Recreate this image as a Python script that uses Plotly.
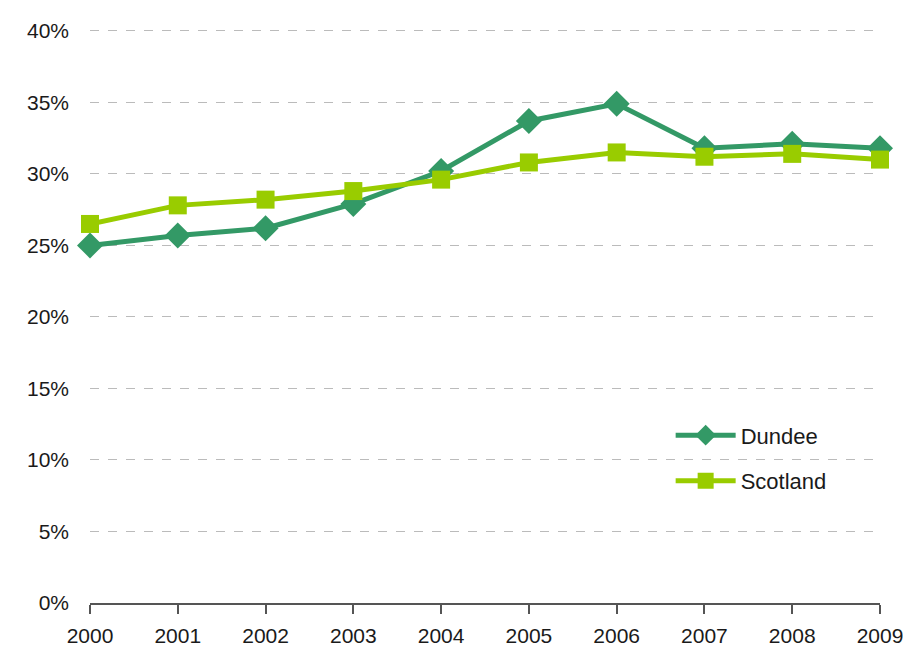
import plotly.graph_objects as go

years = [2000, 2001, 2002, 2003, 2004, 2005, 2006, 2007, 2008, 2009]
dundee = [25.0, 25.7, 26.2, 27.9, 30.2, 33.7, 34.9, 31.8, 32.1, 31.8]
scotland = [26.5, 27.8, 28.2, 28.8, 29.6, 30.8, 31.5, 31.2, 31.4, 31.0]
y_ticks = [0, 5, 10, 15, 20, 25, 30, 35, 40]
y_labels = [f"{v}%" for v in y_ticks]

fig = go.Figure()
fig.add_trace(go.Scatter(
    x=years, y=dundee, name="Dundee", mode="lines+markers", legendgroup="a",
    line=dict(color="#339966", width=5),
    marker=dict(symbol="diamond", size=20, color="#339966"),
    cliponaxis=False,
))
fig.add_trace(go.Scatter(
    x=years, y=scotland, name="Scotland", mode="lines+markers", legendgroup="b",
    line=dict(color="#99CC00", width=5),
    marker=dict(symbol="square", size=18, color="#99CC00"),
    cliponaxis=False,
))

fig.update_layout(
    width=911, height=653,
    margin=dict(l=82, r=39, t=11, b=58),
    paper_bgcolor="white", plot_bgcolor="white",
    font=dict(family="Liberation Sans, Arial, sans-serif", size=21, color="#1a1a1a"),
    showlegend=True,
    legend=dict(x=0.735, y=0.328, xanchor="left", yanchor="top",
                bgcolor="rgba(0,0,0,0)", font=dict(size=22), itemwidth=60,
                traceorder="grouped", tracegroupgap=14),
    xaxis=dict(
        range=[2000, 2009], tickmode="array", tickvals=years,
        ticktext=[str(y) for y in years],
        showgrid=False, zeroline=False,
        showline=True, linecolor="#555555", linewidth=2,
        ticks="outside", ticklen=9, tickwidth=2, tickcolor="#555555",
        ticklabelstandoff=4,
    ),
    yaxis=dict(
        range=[0, 40.2], tickmode="array", tickvals=y_ticks, ticktext=y_labels,
        showgrid=True, gridcolor="#bbbbbb", griddash="dash", gridwidth=1,
        zeroline=False, showline=False, ticks="", ticklabelstandoff=20,
    ),
)

fig.write_html("out.html")
